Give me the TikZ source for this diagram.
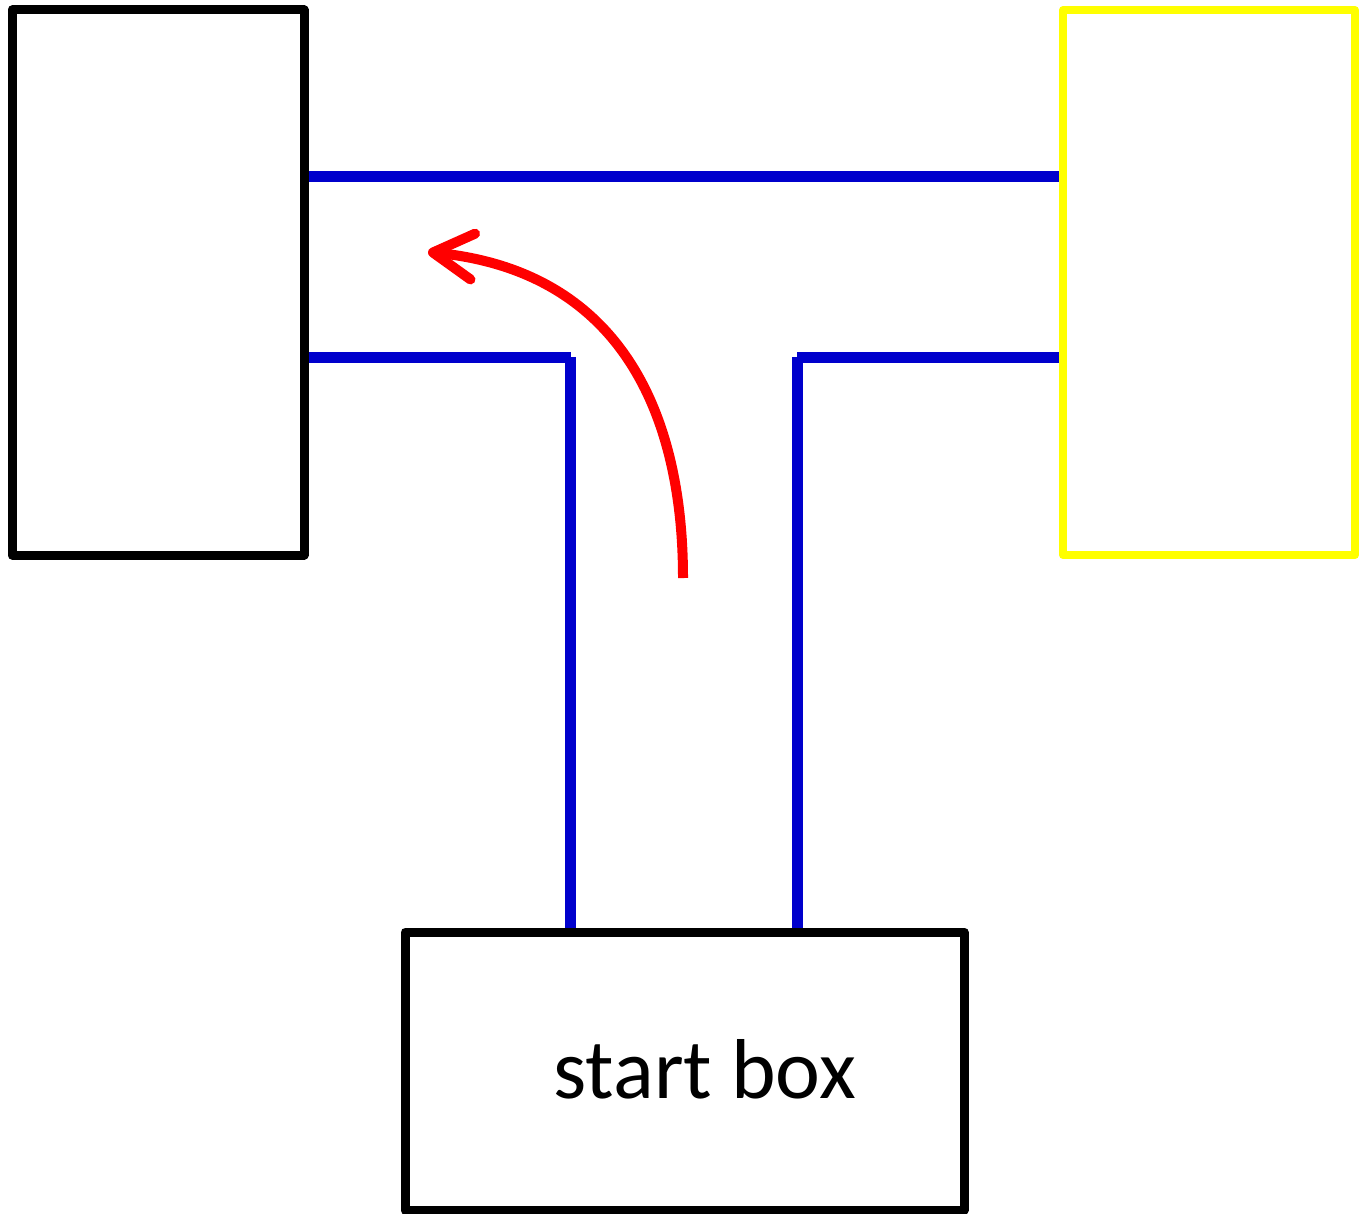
\documentclass[tikz,border=0pt]{standalone}
\usepackage{fontspec}
\setmainfont{Carlito}
\usetikzlibrary{arrows.meta}
\definecolor{wire}{RGB}{0,0,204}
\definecolor{goal}{RGB}{255,255,0}
\tikzset{
  room/.style={draw=black, line width=9pt, line join=round, inner sep=0pt},
  wall/.style={draw=wire, line width=11pt},
  turn/.style={draw=red, line width=10pt,
    -{Straight Barb[length=40pt, width=46pt, line width=10pt, round]}}
}
\begin{document}
\begin{tikzpicture}[x=1pt, y=-1pt]
  \useasboundingbox (0,0) rectangle (1359,1214);
  % arms and start box
  \node[room, minimum width=292pt, minimum height=545pt] (left) at (158,282.5) {};
  \node[room, draw=goal, line width=8pt, minimum width=292pt, minimum height=545pt] (right) at (1209,282.5) {};
  \node[room, minimum width=559pt, minimum height=278pt] (start) at (684.5,1071) {};
  \node[font=\fontsize{85}{100}\selectfont, anchor=base west] (label) at (550,1098) {start box};
  % corridor walls
  \coordinate (tl) at (571,357);
  \coordinate (tr) at (797,357);
  \draw[wall] (left.east |- 0,177) -- (right.west |- 0,177);
  \draw[wall] (left.east |- tl) -- (tl);
  \draw[wall] (570,357) -- (start.north -| 570,0);
  \draw[wall] (right.west |- tr) -- (tr);
  \draw[wall] (797,357) -- (start.north -| 797,0);
  % turning arrow
  \coordinate (from) at (683,578);
  \coordinate (to) at (428,252);
  \draw[turn] (from) .. controls (683,420) and (625,272) .. (to);
\end{tikzpicture}
\end{document}
